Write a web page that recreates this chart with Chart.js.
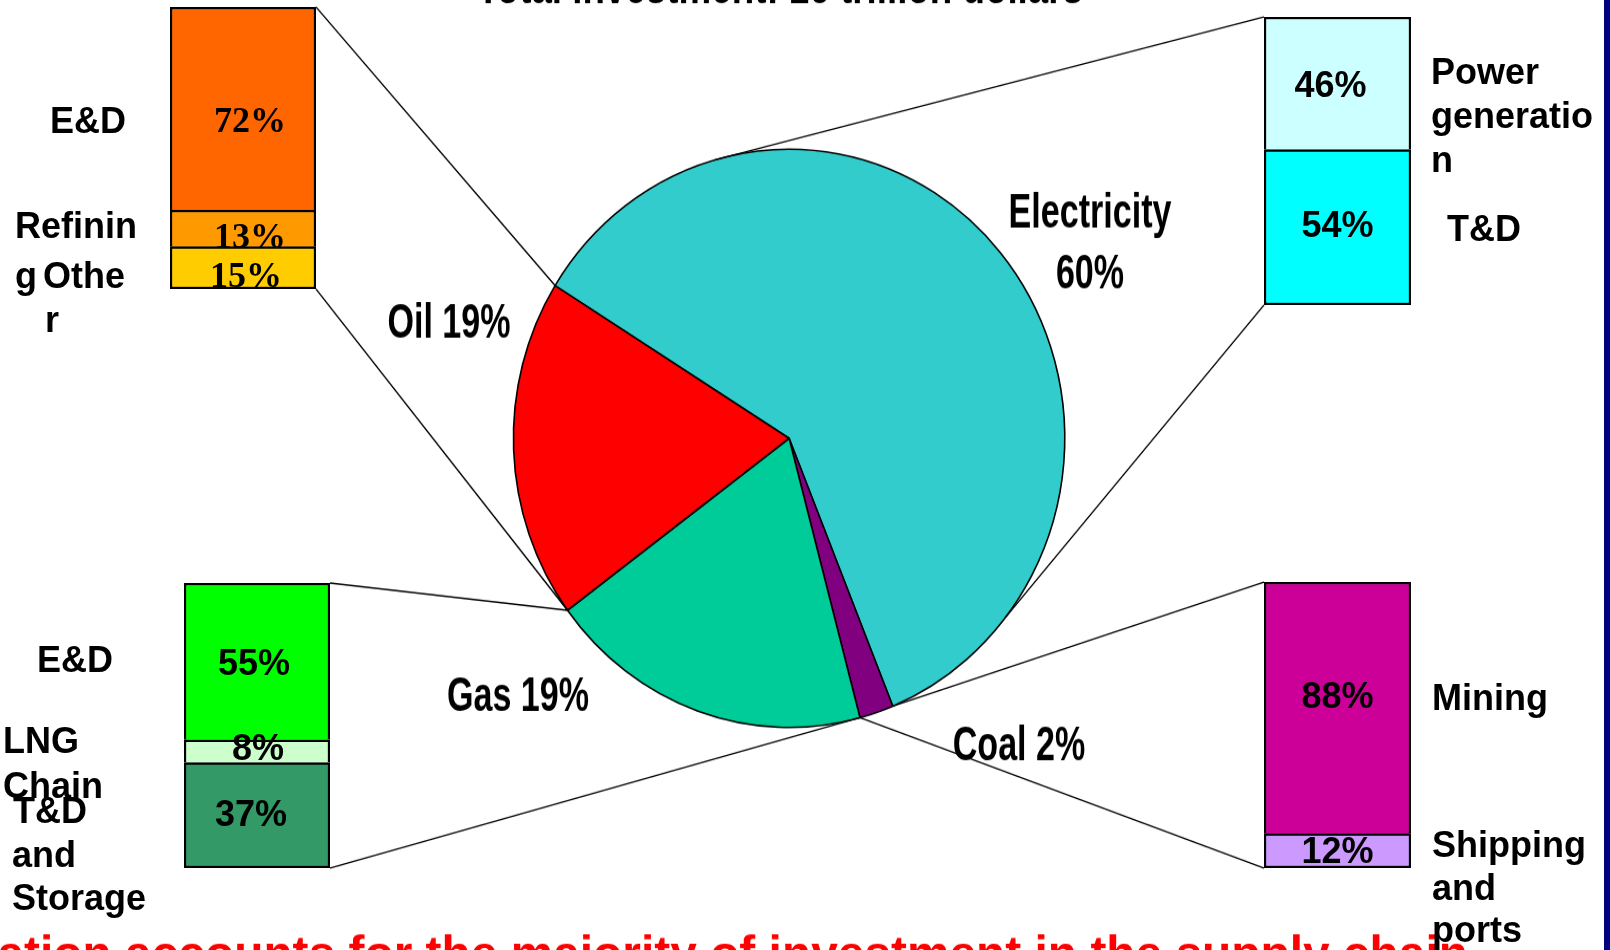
<!DOCTYPE html>
<html lang="en">
<head>
<meta charset="UTF-8">
<title>Investment in the energy supply chain</title>
<script src="https://cdn.jsdelivr.net/npm/chart.js@4.4.1/dist/chart.umd.min.js"></script>
<style>
  html, body { margin: 0; padding: 0; background: #fff; overflow: hidden; }
  #page { position: relative; width: 1610px; height: 950px; overflow: hidden; background: #fff; }
  canvas { position: absolute; }
  #pie { left: 0; top: 0; transform-origin: 0 0; z-index: 1; }
  .bar { z-index: 2; }
  #edge { position: absolute; left: 1604px; top: 0; width: 6px; height: 950px; background: #000080; z-index: 3; }
</style>
</head>
<body>
<div id="page">
  <canvas id="pie" width="1610" height="906"></canvas>
  <canvas id="oilBar" class="bar"></canvas>
  <canvas id="elecBar" class="bar"></canvas>
  <canvas id="gasBar" class="bar"></canvas>
  <canvas id="coalBar" class="bar"></canvas>
  <div id="edge"></div>
</div>

<script>
  // share of total investment by sector (%)
  const sectors = ['Electricity', 'Coal', 'Gas', 'Oil'];
  const sectorShares = [60, 2, 19, 19];

  // breakdown of each sector, top of the bar first (%)
  const oilParts = ['E&D', 'Refining', 'Other'];
  const oilShares = [72, 13, 15];
  const elecParts = ['Power generation', 'T&D'];
  const elecShares = [46, 54];
  const gasParts = ['E&D', 'LNG Chain', 'T&D and Storage'];
  const gasShares = [55, 8, 37];
  const coalParts = ['Mining', 'Shipping and ports'];
  const coalShares = [88, 12];

  const titleText = 'Total investment: 16 trillion dollars';
  const footerText = 'Power generation accounts for the majority of investment in the supply chain';

  const SANS = '"Liberation Sans", Arial, sans-serif';
  const SERIF = '"Liberation Serif", "Times New Roman", serif';
  const PIE_SY = 950 / 906;   // the pie is a bit taller than wide
  document.getElementById('pie').style.transform = 'scaleY(' + PIE_SY + ')';

  // layout of the four small bars: canvas box, bar box, label nudges, wrapped side text
  const barSetup = [
    { id: 'oilBar', parts: oilParts, shares: oilShares,
      colors: ['#FF6600', '#FF9900', '#FFCC00'],
      canvas: [0, 0, 340, 345], bar: [170, 7, 316, 289], serif: true,
      dx: [7, 7, 3], dy: [14, 10, 10],
      text: [['E&D', 50, 133], ['Refinin', 15, 238], ['g', 15, 288], ['Othe', 43, 288], ['r', 45, 332]] },
    { id: 'elecBar', parts: elecParts, shares: elecShares,
      colors: ['#CCFFFF', '#00FFFF'],
      canvas: [1250, 0, 1604, 320], bar: [1264, 17, 1411, 305],
      dx: [-7, 0], dy: [4, 0],
      text: [['Power', 1431, 84], ['generatio', 1431, 128], ['n', 1431, 172], ['T&D', 1447, 241]] },
    { id: 'gasBar', parts: gasParts, shares: gasShares,
      colors: ['#00FF00', '#CCFFCC', '#339966'],
      canvas: [0, 570, 340, 950], bar: [184, 583, 330, 868],
      dx: [-3, 1, -6], dy: [4, -1, 1],
      text: [['E&D', 37, 672], ['LNG', 3, 753], ['Chain', 3, 798], ['T&D', 13, 823],
             ['and', 12, 867], ['Storage', 12, 910]] },
    { id: 'coalBar', parts: coalParts, shares: coalShares,
      colors: ['#CC0099', '#CC99FF'],
      canvas: [1250, 570, 1604, 950], bar: [1264, 582, 1411, 868],
      dx: [0, 0], dy: [-10, 2],
      text: [['Mining', 1432, 710], ['Shipping', 1432, 857], ['and', 1432, 900], ['ports', 1432, 942]] }
  ];

  function makeBar(cfg) {
    const cv = document.getElementById(cfg.id);
    const [cx0, cy0, cx1, cy1] = cfg.canvas;
    const [bx0, by0, bx1, by1] = cfg.bar;
    cv.width = cx1 - cx0;
    cv.height = cy1 - cy0;
    cv.style.left = cx0 + 'px';
    cv.style.top = cy0 + 'px';
    const n = cfg.parts.length;

    // stack is drawn bottom-up, so the last part goes first
    const datasets = cfg.parts.map((p, i) => ({
      label: p,
      data: [cfg.shares[i]],
      backgroundColor: cfg.colors[i],
      borderColor: '#000',
      borderWidth: 2.5,
      borderSkipped: i === n - 1 ? false : 'start',
      barPercentage: 1,
      categoryPercentage: 1
    })).reverse();

    const barText = {
      id: 'barText',
      afterDatasetsDraw(chart) {
        const ctx = chart.ctx;
        ctx.save();
        ctx.fillStyle = '#000';
        ctx.textAlign = 'center';
        ctx.textBaseline = 'middle';
        ctx.font = 'bold 36px ' + (cfg.serif ? SERIF : SANS);
        chart.data.datasets.forEach((ds, i) => {
          const el = chart.getDatasetMeta(i).data[0];
          const k = n - 1 - i;
          ctx.fillText(ds.data[0] + '%', el.x + cfg.dx[k], (el.y + el.base) / 2 + cfg.dy[k]);
        });
        ctx.textAlign = 'left';
        ctx.textBaseline = 'alphabetic';
        ctx.font = 'bold 36px ' + SANS;
        cfg.text.forEach(([t, x, y]) => ctx.fillText(t, x - cx0, y - cy0));
        ctx.restore();
      }
    };

    return new Chart(cv, {
      type: 'bar',
      data: { labels: [''], datasets },
      options: {
        responsive: false,
        animation: false,
        layout: { padding: { left: bx0 - cx0, right: cx1 - bx1, top: by0 - cy0, bottom: cy1 - by1 } },
        scales: {
          x: { display: false, stacked: true },
          y: { display: false, stacked: true, min: 0, max: 100 }
        },
        plugins: { legend: { display: false }, tooltip: { enabled: false } }
      },
      plugins: [barText]
    });
  }

  const bars = barSetup.map(makeBar);
  const [oilChart, elecChart, gasChart, coalChart] = bars;

  // outer box of a stacked bar in page coordinates
  function barBox(chart) {
    let top = Infinity, bottom = -Infinity, left = 0, right = 0;
    chart.data.datasets.forEach((ds, i) => {
      const el = chart.getDatasetMeta(i).data[0];
      top = Math.min(top, el.y, el.base);
      bottom = Math.max(bottom, el.y, el.base);
      left = el.x - el.width / 2;
      right = el.x + el.width / 2;
    });
    const ox = parseFloat(chart.canvas.style.left);
    const oy = parseFloat(chart.canvas.style.top);
    return { left: left + ox, right: right + ox, top: top + oy, bottom: bottom + oy };
  }

  // point on a slice's rim, t = 0 at its start angle, 1 at its end (page coords)
  function rimPoint(arc, t) {
    const a = arc.startAngle + (arc.endAngle - arc.startAngle) * t;
    return [arc.x + arc.outerRadius * Math.cos(a), (arc.y + arc.outerRadius * Math.sin(a)) * PIE_SY];
  }

  // where the pie labels sit: centre x and baselines
  const pieText = [
    { x: 1090, y: [228, 288] },
    { x: 1019, y: [760] },
    { x: 518, y: [711] },
    { x: 449, y: [338] }
  ];

  function squeezed(ctx, text, x, y, size, sx) {
    ctx.save();
    ctx.translate(x, y);
    ctx.scale(sx, 1);
    ctx.font = 'bold ' + size + 'px ' + SANS;
    ctx.textAlign = 'center';
    ctx.fillText(text, 0, 0);
    ctx.restore();
  }

  const overlay = {
    id: 'overlay',
    afterDraw(chart) {
      const ctx = chart.ctx;
      const arcs = chart.getDatasetMeta(0).data;
      ctx.save();
      ctx.scale(1, 1 / PIE_SY);

      // leader lines from slices to their breakdown bars
      const ob = barBox(oilChart), eb = barBox(elecChart), gb = barBox(gasChart), cb = barBox(coalChart);
      const links = [
        [[ob.right, ob.top], rimPoint(arcs[3], 1)],
        [[ob.right, ob.bottom], rimPoint(arcs[3], 0)],
        [[eb.left, eb.top], rimPoint(arcs[0], 0.196)],
        [[eb.left, eb.bottom], rimPoint(arcs[0], 0.863)],
        [[gb.right, gb.top], rimPoint(arcs[2], 1)],
        [[gb.right, gb.bottom], rimPoint(arcs[2], 0)],
        [[cb.left, cb.top], rimPoint(arcs[1], 0)],
        [[cb.left, cb.bottom], rimPoint(arcs[1], 1)]
      ];
      ctx.strokeStyle = '#000';
      ctx.lineWidth = 1.4;
      links.forEach(([a, b]) => {
        ctx.beginPath();
        ctx.moveTo(a[0], a[1]);
        ctx.lineTo(b[0], b[1]);
        ctx.stroke();
      });

      // slice labels
      ctx.fillStyle = '#000';
      sectors.forEach((name, i) => {
        const lines = i === 0 ? [name, sectorShares[i] + '%'] : [name + ' ' + sectorShares[i] + '%'];
        lines.forEach((t, j) => squeezed(ctx, t, pieText[i].x, pieText[i].y[j], 48, 0.71));
      });

      // title, mostly cut off by the top edge
      ctx.font = 'bold 48px ' + SANS;
      const tw = ctx.measureText(titleText).width;
      squeezed(ctx, titleText, 780, 3, 48, 606 / tw);

      // red conclusion line, cut off at the bottom edge
      ctx.font = 'bold 100px ' + SANS;
      const tail = footerText.slice(footerText.indexOf('ation'));
      const size = 100 * 1471 / ctx.measureText(tail).width;
      ctx.font = 'bold ' + size + 'px ' + SANS;
      ctx.fillStyle = '#FF0000';
      ctx.textAlign = 'right';
      ctx.fillText(footerText, 1468, 936 + 0.716 * size);
      ctx.restore();
    }
  };

  new Chart(document.getElementById('pie'), {
    type: 'pie',
    data: {
      labels: sectors,
      datasets: [{
        data: sectorShares,
        backgroundColor: ['#33CCCC', '#800080', '#00CC99', '#FF0000'],
        borderColor: '#000',
        borderWidth: 1.6
      }]
    },
    options: {
      responsive: false,
      animation: false,
      rotation: -58.1,
      radius: 275.7,
      layout: { padding: { left: 0, right: 31.8, top: 0, bottom: 70 } },
      plugins: { legend: { display: false }, tooltip: { enabled: false } }
    },
    plugins: [overlay]
  });
</script>
</body>
</html>
